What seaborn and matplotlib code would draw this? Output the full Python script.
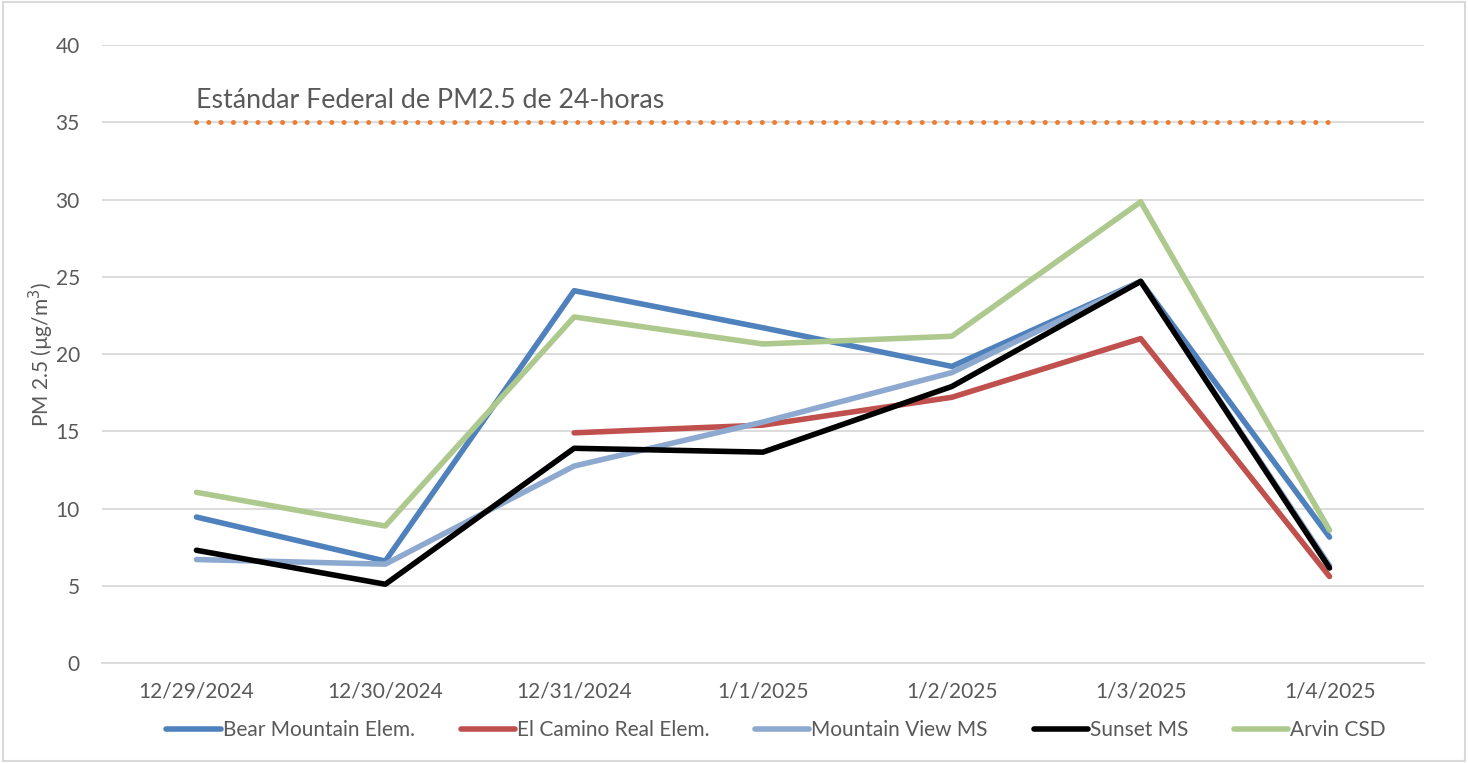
import numpy as np
import pandas as pd
import matplotlib
matplotlib.use('Agg')
import matplotlib.pyplot as plt
import seaborn as sns
from matplotlib.ticker import FixedLocator

dates = ['12/29/2024', '12/30/2024', '12/31/2024', '1/1/2025', '1/2/2025', '1/3/2025', '1/4/2025']
bear_mountain = [9.45, 6.6, 24.1, 21.7, 19.2, 24.7, 8.15]
el_camino = [np.nan, np.nan, 14.9, 15.4, 17.2, 21.0, 5.6]
mountain_view = [6.7, 6.4, 12.75, 15.6, 18.8, 24.7, 6.3]
sunset = [7.3, 5.1, 13.9, 13.65, 17.9, 24.7, 6.15]
arvin = [11.05, 8.87, 22.4, 20.65, 21.15, 29.85, 8.6]
federal_std = 35

sites = ['Bear Mountain Elem.', 'El Camino Real Elem.', 'Mountain View MS', 'Sunset MS', 'Arvin CSD']
colors = ['#4F81BD', '#C0504D', '#8EA9D0', '#000000', '#ADC98E']

df = pd.DataFrame({'date': dates, sites[0]: bear_mountain, sites[1]: el_camino,
                   sites[2]: mountain_view, sites[3]: sunset, sites[4]: arvin})
long_df = df.melt(id_vars='date', var_name='site', value_name='pm').dropna()

sns.set_style('white')
plt.rcParams['font.family'] = ['Lato', 'DejaVu Sans']

fig = plt.figure(figsize=(14.68, 7.63), dpi=100)
ax = fig.add_axes([0.0695, 0.131, 0.9005, 0.81])

ax.plot(dates, [federal_std] * len(dates), color='#ED7D31', linewidth=3.6,
        linestyle=(0, (0.01, 2.45)), dash_capstyle='round', zorder=1)
ax.text(0, 35.6, 'Estándar Federal de PM2.5 de 24-horas', fontsize=19.3, color='#595959',
        ha='left', va='bottom')

sns.lineplot(data=long_df, x='date', y='pm', hue='site', palette=colors, linewidth=4,
             sort=False, ax=ax, zorder=2)

ax.set_xlim(-0.5, 6.5)
ax.set_ylim(0, 40)
ax.set_yticks(range(0, 41, 5))
ax.yaxis.grid(True, color='#D9D9D9', linewidth=1.3)
ax.xaxis.grid(False)
ax.set_axisbelow(True)
for s in ['top', 'right', 'left']:
    ax.spines[s].set_visible(False)
ax.spines['bottom'].set_color('#D9D9D9')
ax.spines['bottom'].set_linewidth(1.3)
ax.xaxis.set_minor_locator(FixedLocator(np.arange(-0.5, 7, 1)))
ax.tick_params(axis='x', which='major', length=0, pad=13, labelsize=15, labelcolor='#595959')
ax.tick_params(axis='x', which='minor', length=9, width=1.3, color='#D9D9D9')
ax.tick_params(axis='y', length=0, pad=16, labelsize=15, labelcolor='#595959')
ax.set_xlabel('')
ax.set_ylabel('PM 2.5 (µg/m$^3$)', fontsize=15, color='#595959', labelpad=0)

handles, labels = ax.get_legend_handles_labels()
leg = ax.legend(handles, labels, loc='upper center', bbox_to_anchor=(0.51, -0.062), ncol=5,
                frameon=False, fontsize=15, handlelength=2.6, handletextpad=0.1,
                columnspacing=2.2, labelcolor='#595959')

fig.patches.append(plt.Rectangle((0.002, 0.002), 0.996, 0.996, transform=fig.transFigure,
                                 fill=False, edgecolor='#D9D9D9', linewidth=1.5))

fig.savefig('out.png', dpi=100)
